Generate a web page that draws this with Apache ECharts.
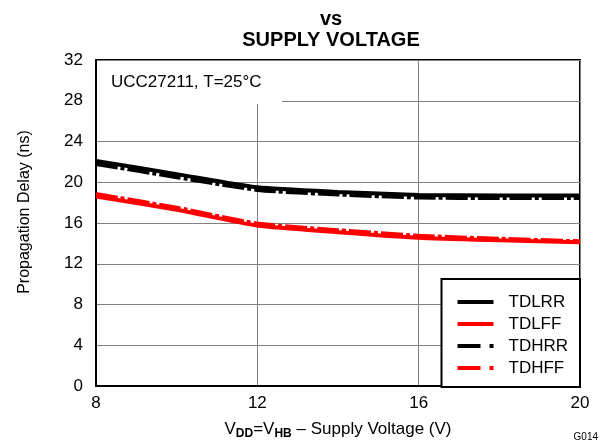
<!DOCTYPE html>
<html>
<head>
<meta charset="utf-8">
<style>
  html, body { margin: 0; padding: 0; background: #fff; }
  #chart { width: 611px; height: 447px; }
</style>
<script src="https://cdn.jsdelivr.net/npm/echarts@6/dist/echarts.min.js"></script>
</head>
<body>
<div id="chart"></div>
<script>
// supply voltage (V)
const voltage = [8, 10, 12, 14, 16, 18, 20];
// propagation delay (ns)
const tdlrr = [22.1, 20.8, 19.5, 19.05, 18.75, 18.7, 18.7];
const tdhrr = [21.8, 20.5, 19.25, 18.8, 18.5, 18.45, 18.45];
const tdlff = [18.6, 17.3, 15.75, 15.1, 14.55, 14.3, 14.1];
const tdhff = [18.85, 17.5, 15.95, 15.3, 14.75, 14.45, 14.2];
const seriesNames = ['TDLRR', 'TDLFF', 'TDHRR', 'TDHFF'];

const font = 'Liberation Sans, Arial, sans-serif';
const dashDot = [22, 3, 4, 3];

function pairs(ys) {
  return voltage.map((v, i) => [v, ys[i]]);
}

function makeSeries(name, ys, color, dashed) {
  return {
    name: name,
    type: 'line',
    data: pairs(ys),
    symbol: 'none',
    smooth: 0.2,
    z: dashed ? 3 : 2,
    lineStyle: { color: color, width: 4, type: dashed ? dashDot : 'solid', cap: 'butt' },
    itemStyle: { color: color }
  };
}

const chart = echarts.init(document.getElementById('chart'));

chart.setOption({
  animation: false,
  textStyle: { fontFamily: font },
  title: {
    text: 'vs\nSUPPLY VOLTAGE',
    left: 326,
    top: 4,
    textAlign: 'center',
    textStyle: { fontFamily: font, fontSize: 20, fontWeight: 'bold', color: '#000', lineHeight: 21 }
  },
  grid: {
    left: 96, right: 31, top: 60, bottom: 61,
    show: true, borderColor: '#000', borderWidth: 2, backgroundColor: '#fff'
  },
  legend: {
    data: [
      { name: 'TDLRR' },
      { name: 'TDLFF' },
      { name: 'TDHRR', lineStyle: { width: 4, type: [23, 9, 4, 9] } },
      { name: 'TDHFF', lineStyle: { width: 4, type: [23, 9, 4, 9] } }
    ],
    orient: 'vertical',
    right: 31,
    top: 279,
    itemWidth: 36,
    itemHeight: 14,
    itemGap: 0,
    itemStyle: { opacity: 0 },
    lineStyle: { width: 4 },
    padding: [12, 12, 8, 14],
    backgroundColor: '#fff',
    borderColor: '#000',
    borderWidth: 2,
    textStyle: { fontFamily: font, fontSize: 17, color: '#000', lineHeight: 22, padding: [0, 0, 0, 10] }
  },
  xAxis: {
    type: 'value',
    min: 8, max: 20, interval: 4,
    name: '{n|V}{s|DD}{n|=V}{s|HB}{n| \u2013 Supply Voltage (V)}',
    nameLocation: 'middle',
    nameGap: 32,
    nameTextStyle: {
      rich: {
        n: { fontFamily: font, fontSize: 17, color: '#000', lineHeight: 22 },
        s: { fontFamily: font, fontSize: 12, fontWeight: 'bold', color: '#000', lineHeight: 22, verticalAlign: 'bottom' }
      }
    },
    axisLine: { show: true, lineStyle: { color: '#000', width: 2 } },
    axisTick: { show: false },
    axisLabel: { fontFamily: font, fontSize: 17, color: '#000', margin: 9 },
    splitLine: { show: true, lineStyle: { color: '#808080', width: 1 } }
  },
  yAxis: {
    type: 'value',
    min: 0, max: 32, interval: 4,
    axisLine: { show: true, lineStyle: { color: '#000', width: 2 } },
    axisTick: { show: false },
    axisLabel: { fontFamily: font, fontSize: 17, color: '#000', margin: 13 },
    splitLine: { show: true, lineStyle: { color: '#808080', width: 1 } }
  },
  graphic: [
    {
      type: 'rect', z: 3,
      shape: { x: 97, y: 61, width: 185, height: 43 },
      style: { fill: '#fff' }
    },
    {
      type: 'text', z: 4, x: 111, y: 82,
      style: { text: 'UCC27211, T=25\u00b0C', font: '17px ' + font, fill: '#000', textVerticalAlign: 'middle' }
    },
    {
      type: 'text', z: 4, x: 25, y: 212, rotation: Math.PI / 2,
      style: { text: 'Propagation Delay (ns)', font: '16px ' + font, fill: '#000', textAlign: 'center', textVerticalAlign: 'middle' }
    },
    {
      type: 'text', z: 4, x: 598, y: 437,
      style: { text: 'G014', font: '10px ' + font, fill: '#000', textAlign: 'right', textVerticalAlign: 'middle' }
    }
  ],
  series: [
    makeSeries(seriesNames[0], tdlrr, '#000', false),
    makeSeries(seriesNames[1], tdlff, '#ff0000', false),
    makeSeries(seriesNames[2], tdhrr, '#000', true),
    makeSeries(seriesNames[3], tdhff, '#ff0000', true)
  ]
});
</script>
</body>
</html>
